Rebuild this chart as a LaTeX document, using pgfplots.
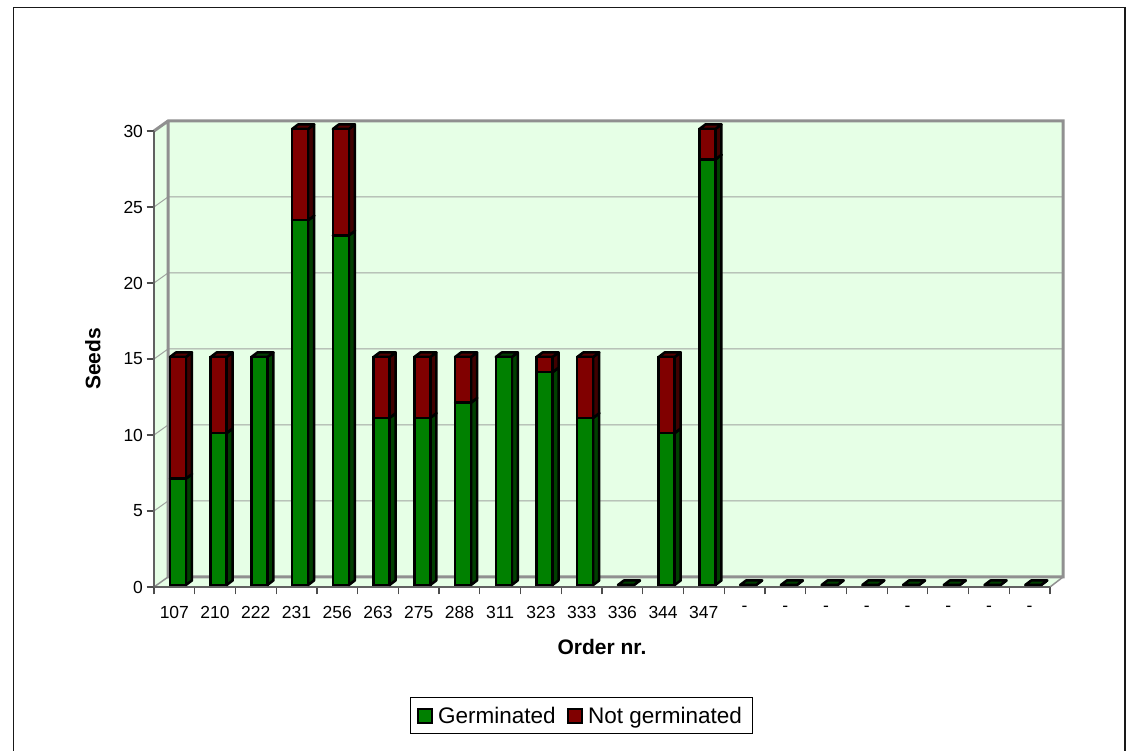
\documentclass[border=0pt]{standalone}
\usepackage{pgfplots}
\usepackage{pgfplotstable}
\usepackage{fontspec}
\setmainfont{Liberation Sans}
\pgfplotsset{compat=1.18}
\definecolor{gfront}{HTML}{008000}
\definecolor{gside}{HTML}{004000}
\definecolor{rfront}{HTML}{800000}
\definecolor{rside}{HTML}{400000}
\definecolor{wall}{HTML}{E6FFE6}
\definecolor{wline}{HTML}{909090}
\definecolor{gline}{HTML}{A0A4A0}
\pgfplotstableread{
pos label g n
0.5 107 7 8
1.5 210 10 5
2.5 222 15 0
3.5 231 24 6
4.5 256 23 7
5.5 263 11 4
6.5 275 11 4
7.5 288 12 3
8.5 311 15 0
9.5 323 14 1
10.5 333 11 4
11.5 336 0 0
12.5 344 10 5
13.5 347 28 2
14.5 - 0 0
15.5 - 0 0
16.5 - 0 0
17.5 - 0 0
18.5 - 0 0
19.5 - 0 0
20.5 - 0 0
21.5 - 0 0
}\seeds
\newcommand\px[2]{(#1pt,{(751-#2)*1pt})}
% one 3D depth: side and top faces of a segment, x centre, y from, y to
\newcommand\depth[5]{%
  \pgfmathsetmacro\xa{#1+0.1964}% right edge of the front face
  \pgfmathsetmacro\xb{\xa+0.147}%
  \pgfmathsetmacro\xc{#1-0.1964}%
  \pgfmathsetmacro\xd{\xc+0.147}%
  \pgfmathsetmacro\ya{#2+0.3}%
  \pgfmathsetmacro\yb{#3+0.3}%
  \edef\tmp{\noexpand\addplot[fill=#4,draw=black,line width=2.5pt,line join=round,forget plot,xshift=3.6pt,yshift=2pt] coordinates {(\xa,#2)(\xb,\ya)(\xb,\yb)(\xa,#3)} -- cycle;
  \noexpand\addplot[fill=#5,draw=black,line width=2.5pt,line join=round,forget plot,xshift=3.6pt,yshift=2pt] coordinates {(\xc,#3)(\xd,\yb)(\xb,\yb)(\xa,#3)} -- cycle;}%
  \tmp}
\begin{document}
\begin{tikzpicture}[x=1pt,y=1pt]
\path[fill=white] (0,0) rectangle (1126pt,751pt);
\begin{scope}
\clip (0,0) rectangle (1126pt,751pt);
\draw[black!90,line width=1.6pt] \px{13.5}{760} -- \px{13.5}{7.5} -- \px{1124.8}{7.5} -- \px{1124.8}{760};
\end{scope}
% walls
\fill[wall] \px{168}{121} -- \px{1063}{121} -- \px{1063}{577} -- \px{1049}{587} -- \px{154}{587} -- \px{154}{131} -- cycle;
\foreach \a/\b in {131/121,207/197,283/273,359/349,435/425,511/501}{
  \draw[gline,line width=1pt] \px{154}{\a} -- \px{168}{\b} -- \px{1063}{\b};
}
\draw[wline,line width=3pt] \px{154}{131} -- \px{168}{121} -- \px{1063}{121} -- \px{1063}{577} -- \px{168}{577} -- \px{168}{121};
\draw[wline,line width=1.5pt] \px{168}{577} -- \px{154}{587};
\draw[wline,line width=1.5pt] \px{1063}{577} -- \px{1050}{587};
\begin{axis}[
  at={(154pt,164pt)},anchor=south west,
  scale only axis,width=896pt,height=456pt,
  xmin=0,xmax=22,ymin=0,ymax=30,clip=false,
  axis x line*=bottom,axis y line*=left,
  axis line style={draw=black!62,line width=2.4pt,-},
  xtick={0.5,1.5,...,21.5},
  xticklabels from table={\seeds}{label},
  minor xtick={0,1,...,22},
  ytick={0,5,...,30},
  major x tick style={draw=none},
  minor tick length=7.5pt,
  major tick length=7.5pt,
  tick style={draw=black!70,line width=1.2pt},
  tick align=outside,
  xtick pos=bottom,ytick pos=left,
  ticklabel style={font=\fontsize{17.5}{17.5}\selectfont},
  xticklabel style={yshift=-8pt},
  /pgf/number format/assume math mode=true,
  xlabel={\textbf{Order nr.}},
  ylabel={\textbf{Seeds}},
  label style={font=\fontsize{21}{21}\selectfont},
  xlabel style={at={(0.5,0)},anchor=north,yshift=-49pt,xshift=0pt},
  ylabel style={at={(0,0.5)},anchor=south,yshift=50pt,rotate=0},
]
\pgfplotsinvokeforeach{0,...,21}{
  \pgfplotstablegetelem{#1}{pos}\of\seeds \let\P\pgfplotsretval
  \pgfplotstablegetelem{#1}{g}\of\seeds \let\G\pgfplotsretval
  \pgfplotstablegetelem{#1}{n}\of\seeds \let\N\pgfplotsretval
  \pgfmathsetmacro\T{\G+\N}
  \depth{\P}{0}{\G}{gside}{gside}
  \ifdim\N pt>0pt \depth{\P}{\G}{\T}{rside}{rside!70!rfront}\fi
}
\addplot[ybar,bar width=16pt,bar shift=0pt,fill=rfront,draw=black,line width=2.5pt,forget plot,xshift=3.6pt,yshift=2pt]
  table[x=pos,y expr=\thisrow{g}+\thisrow{n}]{\seeds};
\addplot[ybar,bar width=16pt,bar shift=0pt,fill=gfront,draw=black,line width=2.5pt,forget plot,xshift=3.6pt,yshift=2pt]
  table[x=pos,y=g]{\seeds};
\end{axis}
% legend
\draw[black,line width=1pt,fill=white] \px{410}{698} rectangle \px{752}{733.5};
\draw[black,line width=2pt,fill=gfront] \px{418}{709} rectangle \px{432}{723};
\node[anchor=base west,inner sep=0pt,font=\fontsize{22.5}{23}\selectfont] at \px{438}{723.5} {Germinated};
\draw[black,line width=2pt,fill=rfront] \px{568}{709} rectangle \px{582}{723};
\node[anchor=base west,inner sep=0pt,font=\fontsize{22.5}{23}\selectfont] at \px{588}{723.5} {Not germinated};
\end{tikzpicture}
\end{document}
